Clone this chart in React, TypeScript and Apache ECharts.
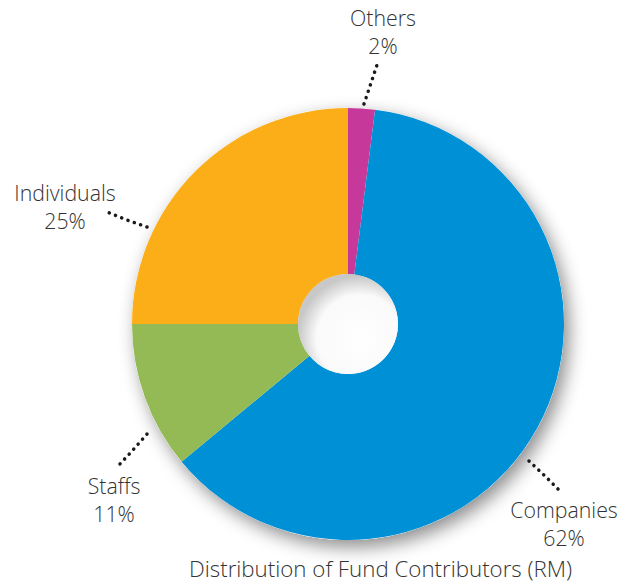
import React, { useEffect, useRef } from 'react';
import * as echarts from 'echarts';

const categories = ['Others', 'Companies', 'Staffs', 'Individuals'];
const shares = [2, 62, 11, 25];
const chartTitle = 'Distribution of Fund Contributors (RM)';

const colors = ['#C6399A', '#0090D6', '#94BA55', '#FBAE18'];
const labelAnchors: { x: number; y: number; line: number[][] }[] = [
  { x: 383, y: 31, line: [[364, 104], [371, 83], [378, 62]] },
  { x: 564, y: 523, line: [[529, 461], [545, 476], [560, 491]] },
  { x: 114, y: 499, line: [[147, 434], [133, 450], [119, 465]] },
  { x: 65, y: 206, line: [[147, 227], [127, 220], [107, 212]] },
];

const FONT = '"Open Sans", sans-serif';

export default function App() {
  const ref = useRef<HTMLDivElement>(null);
  useEffect(() => {
    document.body.style.margin = '0';
    const chart = echarts.init(ref.current!, undefined, { renderer: 'svg' });
    const center = [348, 324];
    chart.setOption({
      animation: false,
      backgroundColor: '#ffffff',
      title: {
        text: chartTitle,
        left: 184,
        top: 552,
        textStyle: { fontFamily: FONT, fontSize: 22.3, fontWeight: 300, color: '#333' },
      },
      graphic: [
        {
          type: 'circle',
          z: 100,
          silent: true,
          shape: { cx: center[0], cy: center[1], r: 50 },
          style: {
            fill: {
              type: 'radial', x: 0.62, y: 0.64, r: 0.62,
              colorStops: [
                { offset: 0, color: '#ffffff' },
                { offset: 0.7, color: '#fafafa' },
                { offset: 1, color: '#c8c8c8' },
              ],
            },
          },
        },
      ],
      series: [
        {
          type: 'pie',
          z: 1,
          silent: true,
          center,
          radius: [50, 216],
          label: { show: false },
          labelLine: { show: false },
          data: [{ value: 1, itemStyle: { color: '#ffffff', shadowBlur: 18, shadowColor: 'rgba(0,0,0,0.45)', shadowOffsetX: 5, shadowOffsetY: 7 } }],
        },
        {
          type: 'pie',
          z: 2,
          center,
          radius: [50, 216],
          startAngle: 90,
          clockwise: true,
          avoidLabelOverlap: false,
          itemStyle: { borderWidth: 0 },
          label: {
            show: true,
            position: 'outside',
            formatter: (p: any) => `${p.name}\n${p.value}%`,
            fontFamily: FONT,
            fontSize: 21.3,
            fontWeight: 300,
            lineHeight: 28,
            color: '#333',
            align: 'center',
          },
          labelLine: {
            show: true,
            lineStyle: { color: '#1a1a1a', width: 3.5, type: [0.1, 6.6], cap: 'round' },
          },
          labelLayout: (params: any) => {
            const a = labelAnchors[params.dataIndex];
            return {
              x: a.x,
              y: a.y,
              align: 'center',
              verticalAlign: 'middle',
              labelLinePoints: a.line,
            };
          },
          data: categories.map((name, i) => ({ name, value: shares[i], itemStyle: { color: colors[i] } })),
        },
      ],
    });
    return () => chart.dispose();
  }, []);
  return <div ref={ref} style={{ position: 'absolute', left: 0, top: 0, width: 627, height: 587 }} />;
}
